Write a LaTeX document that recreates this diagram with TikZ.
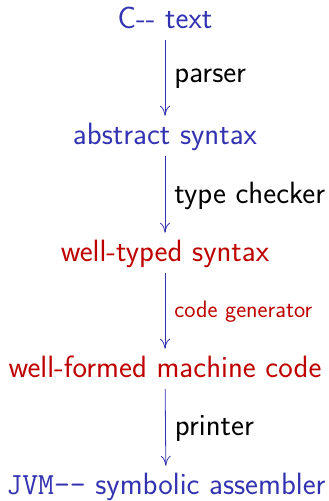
\documentclass[tikz,border=0pt]{standalone}
\usetikzlibrary{arrows.meta}
\definecolor{structblue}{rgb}{0.2,0.2,0.7}
\definecolor{alertred}{rgb}{0.75,0,0}
\tikzset{
  stage/.style={font=\fontsize{30.8}{36}\selectfont\sffamily, inner sep=0pt,
    text height=22pt, text depth=8pt, anchor=base},
  pass/.style={structblue, line width=0.8pt, -{To[length=10pt,width=10pt]},
    shorten <=4pt, shorten >=6pt},
  passlabel/.style={right, black, inner sep=0pt, xshift=9pt,
    font=\fontsize{30.8}{36}\selectfont\sffamily}
}
\begin{document}
\begin{tikzpicture}[x=1pt,y=-1pt]

  \useasboundingbox (0,0) rectangle (329,501);

  % Stages of the compiler
  \node[stage,structblue] (src) at (165,28) {C-{}- text};
  \node[stage,structblue] (ast) at (165,144) {abstract syntax};
  \node[stage,alertred] (typed) at (165,261) {well-typed syntax};
  \node[stage,alertred] (mcode) at (165,377) {well-formed machine code};
  \node[stage,structblue] (asm) at (166,494) {\texttt{JVM-{}-} symbolic assembler};

  % Passes
  \draw[pass] (src) -- node[passlabel] {parser} (ast);
  \draw[pass] (ast) -- node[passlabel] {type checker} (typed);
  \draw[pass] (typed) -- node[passlabel,alertred,
    font=\fontsize{23.8}{28}\selectfont\sffamily] {code generator} (mcode);
  \draw[pass] (mcode) -- node[passlabel] {printer} (asm);

\end{tikzpicture}
\end{document}
